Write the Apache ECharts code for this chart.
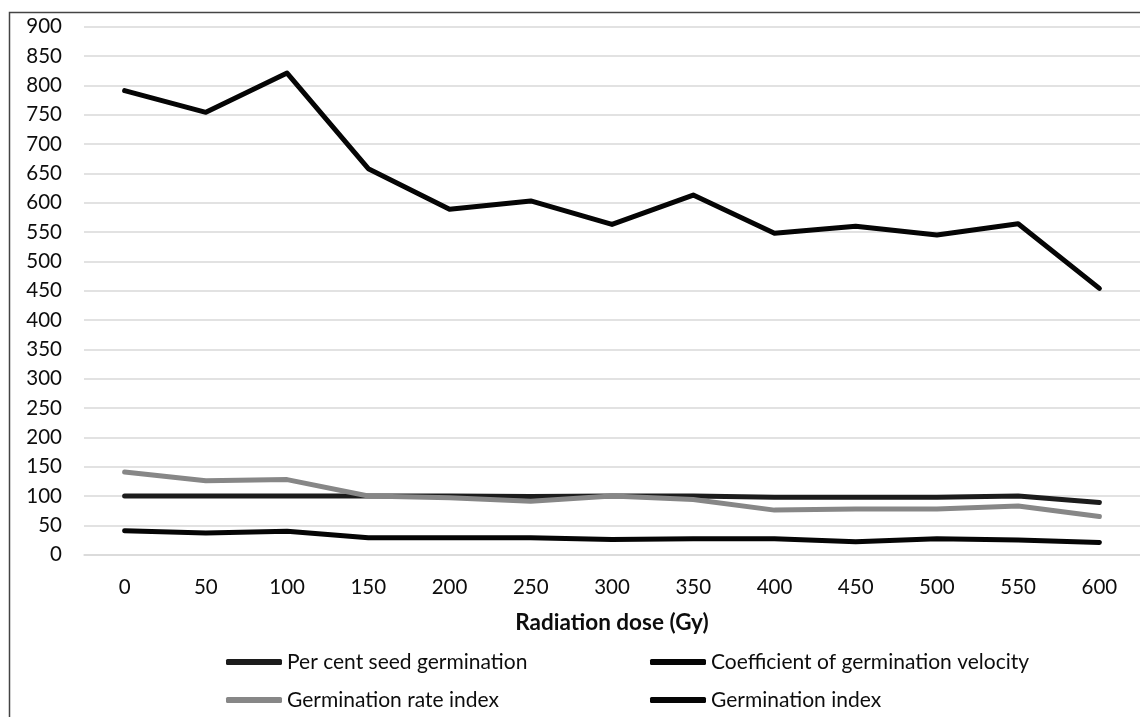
<!DOCTYPE html>
<html>
<head>
<meta charset="utf-8">
<script src="https://cdn.jsdelivr.net/npm/echarts@6/dist/echarts.min.js"></script>
<style>
html,body{margin:0;padding:0;background:#fff;}
#chart{width:1140px;height:717px;}
</style>
</head>
<body>
<div id="chart"></div>
<script>
const categories = ['0','50','100','150','200','250','300','350','400','450','500','550','600'];
const perCentSeedGermination = [100,100,100,100,100,99,100,100,98,98,98,100,89];
const coefficientOfGerminationVelocity = [41,37,40,29,29,29,26,27,27,22,27,25,21];
const germinationRateIndex = [141,126,128,100,97,91,100,94,76,78,78,83,65];
const germinationIndex = [791,754,821,658,589,603,563,613,548,560,545,564,454];
const seriesNames = ['Per cent seed germination','Coefficient of germination velocity','Germination rate index','Germination index'];
const xAxisTitle = 'Radiation dose (Gy)';

const FONT = 'Lato, "Open Sans", sans-serif';
const colors = ['#1c1c1c','#050505','#878787','#050505'];
const dataSets = [perCentSeedGermination, coefficientOfGerminationVelocity, germinationRateIndex, germinationIndex];

const chart = echarts.init(document.getElementById('chart'), null, {renderer:'canvas'});

const legendPos = [
  {left:226, top:650},
  {left:650, top:650},
  {left:226, top:688},
  {left:650, top:688}
];

const option = {
  animation:false,
  backgroundColor:'#ffffff',
  grid:{left:84, right:-2.5, top:26.7, bottom:162.3, containLabel:false},
  xAxis:{
    type:'category',
    data:categories,
    boundaryGap:true,
    axisLine:{show:true, lineStyle:{color:'#d9d9d9', width:1.5}},
    axisTick:{show:false},
    axisLabel:{color:'#0d0d0d', fontFamily:FONT, fontSize:20.5, margin:22},
    name:xAxisTitle,
    nameLocation:'middle',
    nameGap:57,
    nameTextStyle:{color:'#0d0d0d', fontFamily:FONT, fontSize:22.5, fontWeight:'bold'}
  },
  yAxis:{
    type:'value',
    min:0, max:900, interval:50,
    axisLine:{show:false},
    axisTick:{show:false},
    axisLabel:{color:'#0d0d0d', fontFamily:FONT, fontSize:20.5, margin:22},
    splitLine:{show:true, lineStyle:{color:'#d9d9d9', width:1.5}}
  },
  legend: seriesNames.map((n,i)=>({
    data:[n],
    left:legendPos[i].left,
    top:legendPos[i].top,
    orient:'horizontal',
    padding:0,
    itemWidth:56,
    itemHeight:6,
    icon:'roundRect',
    itemGap:5,
    textStyle:{color:'#0d0d0d', fontFamily:FONT, fontSize:21, lineHeight:24}
  })),
  graphic:[{
    type:'rect',
    shape:{x:9.5, y:12.5, width:1300, height:900},
    style:{fill:'none', stroke:'#444', lineWidth:1.5},
    silent:true,
    z:100
  }],
  series: seriesNames.map((n,i)=>({
    name:n,
    type:'line',
    data:dataSets[i],
    showSymbol:false,
    symbol:'none',
    color:colors[i],
    lineStyle:{color:colors[i], width:5, cap:'round', join:'round'},
    itemStyle:{color:colors[i]},
    z:2+i
  }))
};
chart.setOption(option);
</script>
</body>
</html>
